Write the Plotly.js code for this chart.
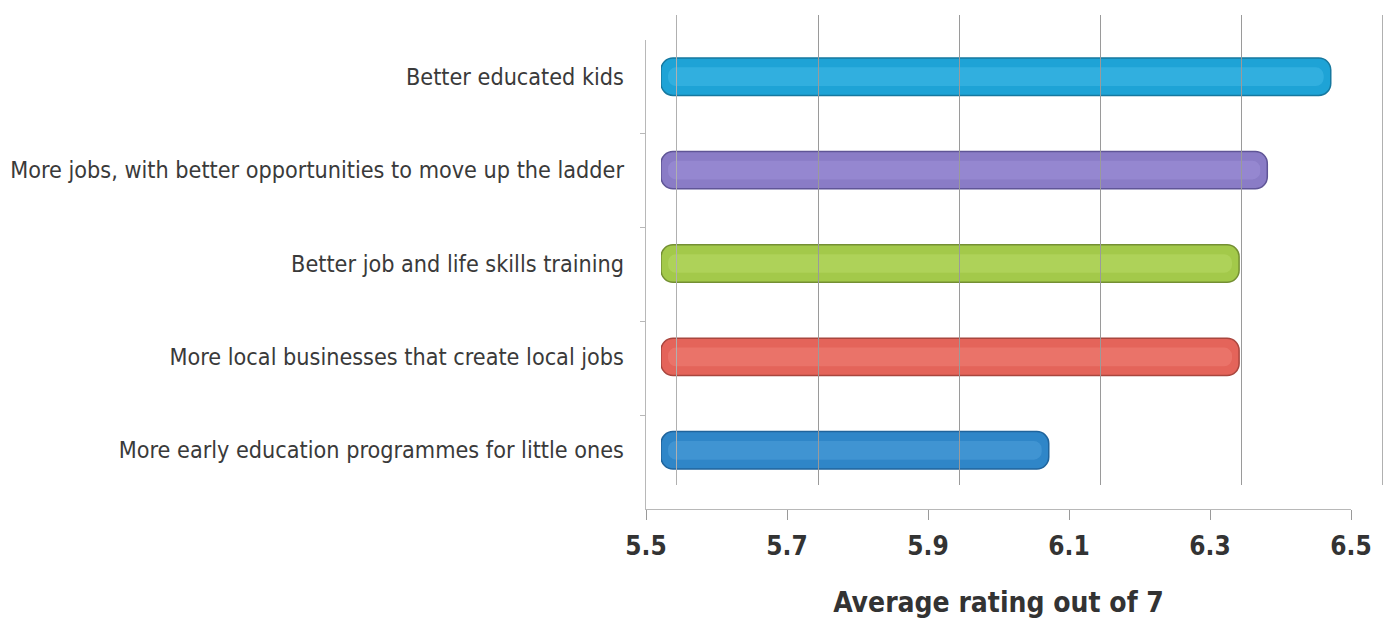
<!DOCTYPE html>
<html>
<head>
<meta charset="utf-8">
<script src="https://cdn.plot.ly/plotly-3.0.1.min.js"></script>
<style>html,body{margin:0;padding:0;background:#fff;}#chart{width:1386px;height:621px;}</style>
</head>
<body>
<div id="chart"></div>
<script>
// Data (bottom to top, as drawn)
const categories = [
  "More early education programmes for little ones",
  "More local businesses that create local jobs",
  "Better job and life skills training",
  "More jobs, with better opportunities to move up the ladder",
  "Better educated kids"
];
const ratings = [6.05, 6.32, 6.32, 6.36, 6.45];
const axisMin = 5.5;
const axisMax = 6.5;
const barColors = ["#2f86c8", "#e4645a", "#a3c94a", "#8a7cc6", "#1ea3d6"];
const edgeColors = ["#20649c", "#a8463e", "#748f33", "#5f5596", "#16789f"];
const highlightColors = ["#62aee6", "#f59088", "#c3e276", "#aa9de2", "#56c6f0"];
const tickValues = [5.5, 5.7, 5.9, 6.1, 6.3, 6.5];
const tickLabels = ["5.5", "5.7", "5.9", "6.1", "6.3", "6.5"];
const axisTitle = "Average rating out of 7";

const W = 1386, H = 621;
const px = v => v / W;
const py = v => 1 - v / H;
const cond = "DejaVu Sans Condensed, DejaVu Sans, sans-serif";

const traces = [
  {
    type: "bar", orientation: "h", x: ratings.map(v => v - axisMin), y: categories,
    base: axisMin, width: 0.4,
    marker: { color: barColors, line: { color: edgeColors, width: 1.5 }, cornerradius: 12 },
    xaxis: "x", yaxis: "y", hoverinfo: "y", showlegend: false
  },
  {
    type: "bar", orientation: "h", x: ratings.map(v => v - axisMin - 0.02), y: categories,
    base: axisMin + 0.01, width: 0.2,
    marker: { color: highlightColors, opacity: 0.35, cornerradius: 8 },
    xaxis: "x", yaxis: "y", hoverinfo: "skip", showlegend: false
  },
  { type: "scatter", mode: "markers", x: [axisMin, axisMax], y: [0, 1], marker: { opacity: 0 },
    xaxis: "x2", yaxis: "y2", hoverinfo: "skip", showlegend: false },
  { type: "scatter", mode: "markers", x: [axisMin, axisMax], y: [0, 1], marker: { opacity: 0 },
    xaxis: "x3", yaxis: "y3", hoverinfo: "skip", showlegend: false }
];

const layout = {
  width: W, height: H,
  margin: { l: 0, r: 0, t: 0, b: 0 },
  paper_bgcolor: "#ffffff", plot_bgcolor: "rgba(0,0,0,0)",
  barmode: "overlay",
  font: { family: cond, color: "#3a3a3a" },
  // middle plane: bars
  xaxis: {
    domain: [px(661), px(1366)], range: [axisMin, axisMax],
    showgrid: false, showticklabels: false, zeroline: false, showline: false, ticks: ""
  },
  yaxis: {
    domain: [py(497), py(30)], range: [-0.5, 4.5], type: "category",
    showgrid: false, zeroline: false, showline: false, ticks: "",
    ticklabelstandoff: 36,
    tickfont: { size: 23.2, color: "#3a3a3a", family: cond }
  },
  // back wall: gridlines
  xaxis2: {
    domain: [px(677), px(1382)], range: [axisMin, axisMax], anchor: "y2",
    tickvals: tickValues, showgrid: true, gridcolor: "#9a9a9a", gridwidth: 1,
    showticklabels: false, ticks: "", zeroline: false, showline: false
  },
  yaxis2: {
    domain: [py(485), py(15)], range: [0, 1], anchor: "x2",
    showgrid: false, showticklabels: false, ticks: "", zeroline: false,
    showline: true, linecolor: "#b0b0b0", linewidth: 1, mirror: true
  },
  // front plane: axis line, ticks, labels
  xaxis3: {
    domain: [px(646), px(1351)], range: [axisMin, axisMax], anchor: "y3",
    tickvals: tickValues, ticktext: tickLabels,
    showgrid: false, zeroline: false,
    showline: true, linecolor: "#b8b8b8", linewidth: 1,
    ticks: "outside", ticklen: 10, tickcolor: "#9a9a9a", tickwidth: 1,
    ticklabelstandoff: 4,
    tickfont: { size: 26, color: "#333333", family: cond, weight: "bold" },
    title: { text: axisTitle, standoff: 32,
      font: { size: 28, color: "#333333", family: cond, weight: "bold" } }
  },
  yaxis3: {
    domain: [py(509), py(40)], range: [0, 1], anchor: "x3",
    showgrid: false, showticklabels: false, zeroline: false,
    showline: true, linecolor: "#b8b8b8", linewidth: 1,
    tickvals: [0.2, 0.4, 0.6, 0.8], ticks: "outside", ticklen: 5, tickcolor: "#b8b8b8"
  }
};

Plotly.newPlot("chart", traces, layout, { displayModeBar: false, staticPlot: true });
</script>
</body>
</html>
